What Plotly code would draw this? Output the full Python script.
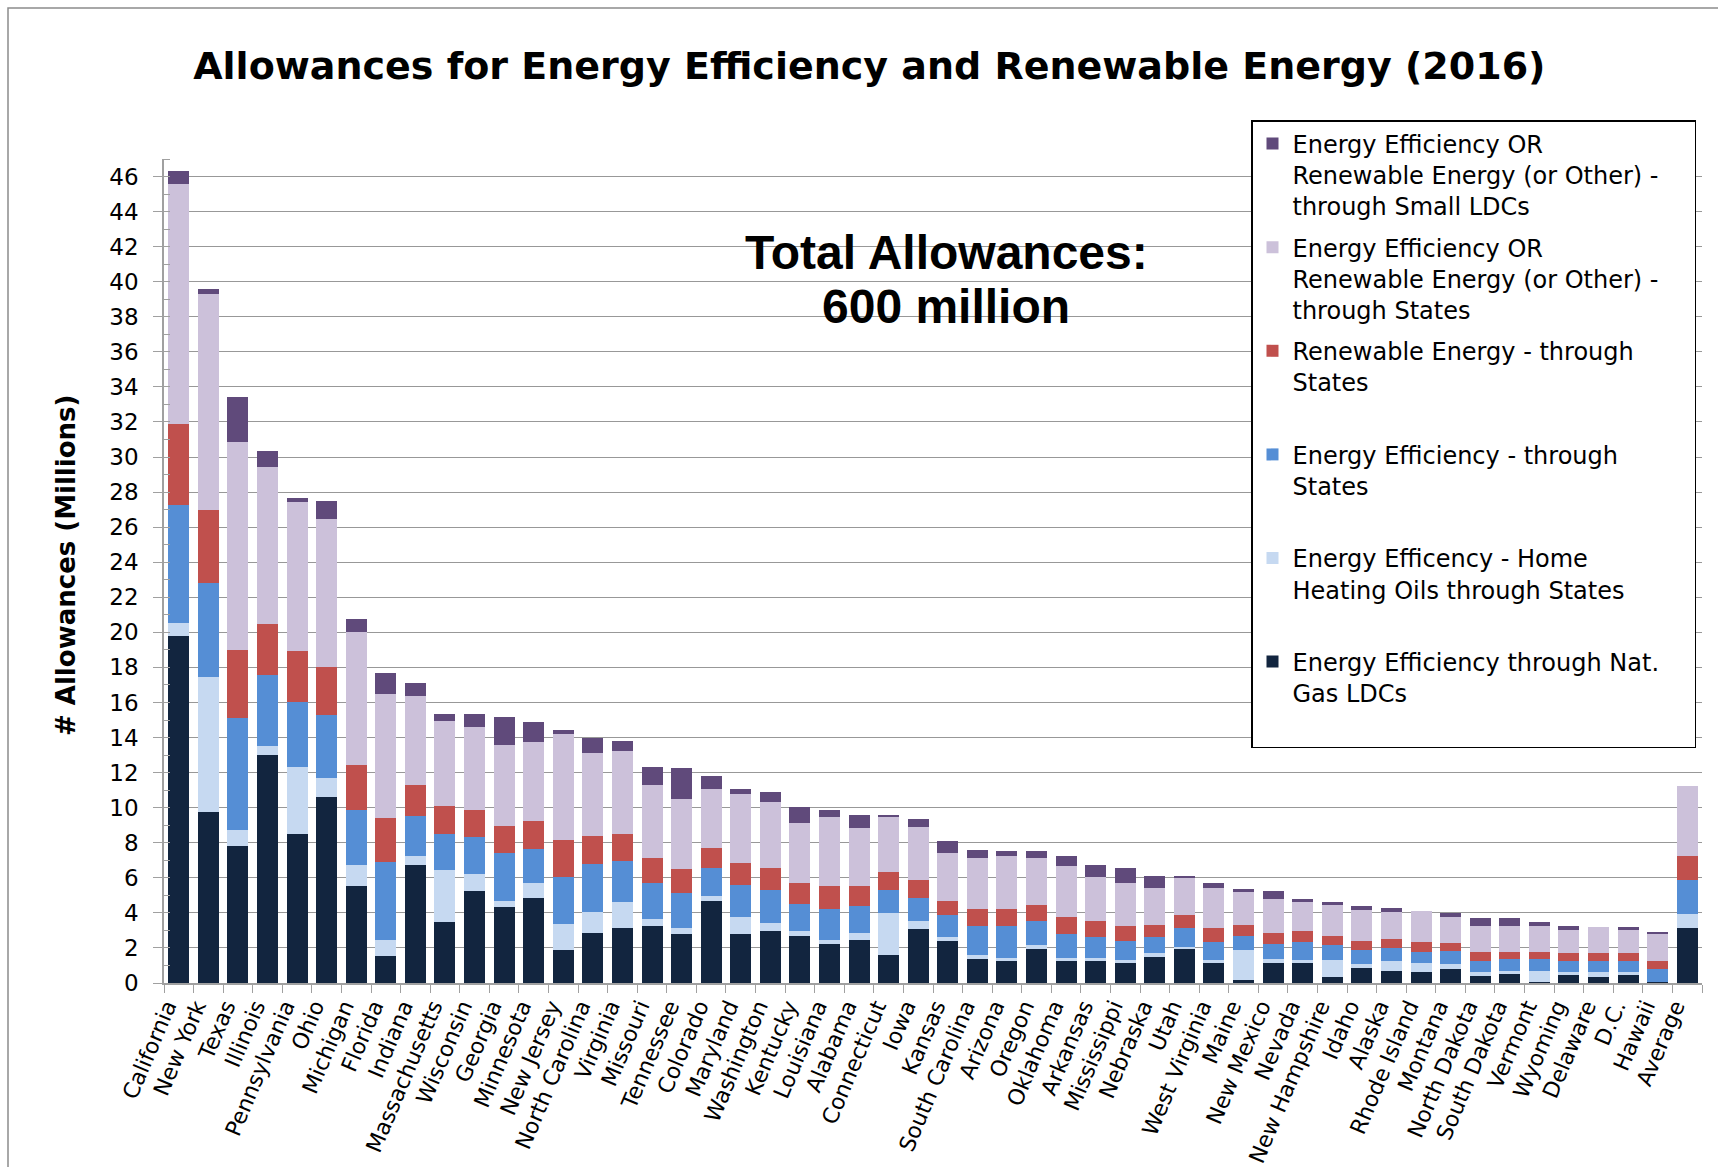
import plotly.graph_objects as go

# Allowance categories (x axis)
states = [
    "California", "New York", "Texas", "Illinois", "Pennsylvania", "Ohio",
    "Michigan", "Florida", "Indiana", "Massachusetts", "Wisconsin", "Georgia",
    "Minnesota", "New Jersey", "North Carolina", "Virginia", "Missouri",
    "Tennessee", "Colorado", "Maryland", "Washington", "Kentucky", "Louisiana",
    "Alabama", "Connecticut", "Iowa", "Kansas", "South Carolina", "Arizona",
    "Oregon", "Oklahoma", "Arkansas", "Mississippi", "Nebraska", "Utah",
    "West Virginia", "Maine", "New Mexico", "Nevada", "New Hampshire", "Idaho",
    "Alaska", "Rhode Island", "Montana", "North Dakota", "South Dakota",
    "Vermont", "Wyoming", "Delaware", "D.C.", "Hawaii", "Average",
]

# Allowances in millions, one list per stacked series (bottom to top)
ee_nat_gas_ldcs = [
    19.8, 9.73, 7.84, 12.98, 8.52, 10.63, 5.55, 1.55, 6.75, 3.5, 5.24, 4.32,
    4.84, 1.87, 2.84, 3.12, 3.24, 2.78, 4.67, 2.78, 2.95, 2.67, 2.21, 2.44,
    1.58, 3.07, 2.38, 1.35, 1.3, 1.92, 1.24, 1.3, 1.12, 1.47, 1.98, 1.12,
    0.15, 1.12, 1.12, 0.32, 0.84, 0.67, 0.61, 0.78, 0.38, 0.5, 0.04, 0.5,
    0.32, 0.5, 0.04, 3.12,
]
ee_home_heating_oil = [
    0.75, 7.7, 0.9, 0.56, 3.78, 1.05, 1.2, 0.93, 0.5, 2.97, 0.97, 0.35,
    0.86, 1.48, 1.2, 1.49, 0.4, 0.34, 0.28, 0.97, 0.46, 0.28, 0.23, 0.4,
    2.4, 0.45, 0.23, 0.23, 0.11, 0.23, 0.17, 0.11, 0.18, 0.23, 0.06, 0.18,
    1.72, 0.23, 0.18, 0.98, 0.23, 0.57, 0.51, 0.29, 0.23, 0.17, 0.63, 0.11,
    0.29, 0.11, 0.0, 0.8,
]
ee_states = [
    6.7, 5.36, 6.35, 4.02, 3.72, 3.59, 3.13, 4.43, 2.29, 2.05, 2.11, 2.74,
    1.94, 2.69, 2.74, 2.34, 2.06, 2.0, 1.6, 1.83, 1.89, 1.55, 1.77, 1.54,
    1.32, 1.32, 1.26, 1.66, 1.83, 1.37, 1.37, 1.2, 1.08, 0.91, 1.08, 1.02,
    0.8, 0.86, 1.02, 0.85, 0.8, 0.74, 0.63, 0.74, 0.63, 0.68, 0.68, 0.63,
    0.63, 0.63, 0.74, 1.95,
]
re_states = [
    4.65, 4.2, 3.9, 2.94, 2.91, 2.73, 2.57, 2.48, 1.77, 1.55, 1.55, 1.54,
    1.6, 2.11, 1.6, 1.55, 1.42, 1.38, 1.15, 1.26, 1.25, 1.2, 1.31, 1.14,
    1.02, 1.03, 0.8, 0.97, 0.97, 0.92, 0.97, 0.91, 0.86, 0.69, 0.75, 0.8,
    0.63, 0.63, 0.63, 0.52, 0.51, 0.52, 0.57, 0.46, 0.51, 0.4, 0.4, 0.46,
    0.46, 0.46, 0.46, 1.37,
]
ee_or_re_states = [
    13.7, 12.3, 11.86, 8.93, 8.52, 8.46, 7.56, 7.12, 5.05, 4.86, 4.74, 4.63,
    4.51, 6.06, 4.74, 4.74, 4.18, 4.0, 3.37, 3.94, 3.77, 3.42, 3.95, 3.32,
    3.15, 3.03, 2.74, 2.91, 3.03, 2.68, 2.92, 2.52, 2.46, 2.11, 2.11, 2.29,
    1.94, 1.94, 1.72, 1.83, 1.77, 1.54, 1.78, 1.48, 1.49, 1.49, 1.49, 1.31,
    1.48, 1.37, 1.54, 4.0,
]
ee_or_re_small_ldcs = [
    0.7, 0.32, 2.58, 0.93, 0.21, 1.05, 0.75, 1.15, 0.74, 0.4, 0.74, 1.6,
    1.15, 0.23, 0.86, 0.57, 1.02, 1.77, 0.74, 0.29, 0.58, 0.92, 0.4, 0.74,
    0.11, 0.45, 0.69, 0.46, 0.28, 0.4, 0.57, 0.68, 0.85, 0.69, 0.12, 0.29,
    0.11, 0.46, 0.11, 0.11, 0.23, 0.23, 0.0, 0.23, 0.46, 0.46, 0.23, 0.23,
    0.0, 0.11, 0.12, 0.0,
]

# Legend labels; two-line entries get a blank third line so every entry
# occupies the same height in the legend box
series_names = [
    "Energy Efficiency through Nat.<br>Gas LDCs<br> ",
    "Energy Efficency - Home<br>Heating Oils through States<br> ",
    "Energy Efficiency - through<br>States<br> ",
    "Renewable Energy - through<br>States<br> ",
    "Energy Efficiency OR<br>Renewable Energy (or Other) -&nbsp;&nbsp;&nbsp;&nbsp;<br>through States",
    "Energy Efficiency OR<br>Renewable Energy (or Other) -&nbsp;&nbsp;&nbsp;&nbsp;<br>through Small LDCs",
]
series_values = [
    ee_nat_gas_ldcs, ee_home_heating_oil, ee_states,
    re_states, ee_or_re_states, ee_or_re_small_ldcs,
]
series_colors = ["#12253F", "#C6D9F1", "#558ED5", "#C0504D", "#CCC1DA", "#604A7B"]

y_ticks = list(range(0, 47, 2))

fig = go.Figure()
for i, (name, vals, col) in enumerate(zip(series_names, series_values, series_colors)):
    fig.add_trace(go.Bar(
        x=states, y=vals, name=name, legendgroup=f"g{i}",
        legendrank=1000 - 10 * i,  # top of the stack listed first
        marker=dict(color=col, line=dict(width=0)),
    ))

W, H = 1718, 1167
L, R, T, B = 164, 16, 159, 184
pw, ph = W - L - R, H - T - B

def px_x(x):
    return (x - L) / pw

def px_y(y):
    return (H - B - y) / ph

axis_gray = "#A0A0A0"
text_font = "DejaVu Sans, Liberation Sans, Arial, sans-serif"

fig.update_layout(
    width=W, height=H, autosize=False,
    margin=dict(l=L, r=R, t=T, b=B, pad=0),
    paper_bgcolor="white", plot_bgcolor="white",
    barmode="stack", bargap=0.29,
    font=dict(family=text_font, color="black", size=22),
    title=dict(
        text="Allowances for Energy Efficiency and Renewable Energy (2016)",
        x=0.506, xref="container", xanchor="center",
        y=1 - 66 / H, yref="container", yanchor="middle",
        font=dict(family=text_font, size=38, weight="bold", color="black"),
    ),
    xaxis=dict(
        type="category", tickangle=-67, showgrid=False, automargin=False,
        showline=True, linecolor=axis_gray, linewidth=2,
        ticks="outside", ticklen=8, tickcolor=axis_gray, tickson="boundaries",
        tickfont=dict(family=text_font, size=22, color="black"),
        ticklabelshift=-12,
        range=[-0.5, len(states) - 0.5],
    ),
    yaxis=dict(
        range=[0, 47], tickvals=y_ticks, ticktext=[str(v) for v in y_ticks],
        automargin=False,
        showgrid=True, gridcolor="#989898", gridwidth=1,
        showline=True, linecolor=axis_gray, linewidth=1.5,
        ticks="outside", ticklen=9, tickcolor=axis_gray,
        ticklabelstandoff=10,
        minor=dict(dtick=1, tick0=0, ticks="inside", ticklen=6,
                   tickcolor=axis_gray, showgrid=False),
        tickfont=dict(family=text_font, size=23, color="black"),
        zeroline=False,
    ),
    legend=dict(
        x=px_x(1251), xanchor="left", y=px_y(120), yanchor="top",
        bgcolor="white", bordercolor="black", borderwidth=1.5,
        font=dict(family=text_font, size=24, color="black"),
        traceorder="grouped", tracegroupgap=7, valign="top",
        itemwidth=30, maxheight=760,
    ),
    showlegend=True,
)

# white panel behind the total-allowances callout
fig.add_shape(
    type="rect", xref="paper", yref="y",
    x0=px_x(717), x1=px_x(1178), y0=37, y1=45,
    fillcolor="white", line=dict(width=0), layer="between",
)
# outer chart frame
fig.add_shape(
    type="rect", xref="paper", yref="paper",
    x0=px_x(8), x1=px_x(1740), y0=px_y(1190), y1=px_y(8),
    line=dict(color="#8C8C8C", width=1.5), fillcolor="rgba(0,0,0,0)",
)

callout_font = dict(family="Liberation Sans, Arial, sans-serif", size=48,
                    weight="bold", color="black")
fig.add_annotation(text="Total Allowances:", xref="paper", yref="paper",
                   x=px_x(946), y=px_y(252), showarrow=False,
                   xanchor="center", yanchor="middle", font=callout_font)
fig.add_annotation(text="600 million", xref="paper", yref="paper",
                   x=px_x(946), y=px_y(306), showarrow=False,
                   xanchor="center", yanchor="middle", font=callout_font)

fig.add_annotation(text="# Allowances (Millions)", xref="paper", yref="paper",
                   x=px_x(66), y=px_y(566), showarrow=False, textangle=-90,
                   xanchor="center", yanchor="middle",
                   font=dict(family=text_font, size=26, weight="bold", color="black"))

fig.write_html("out.html")
